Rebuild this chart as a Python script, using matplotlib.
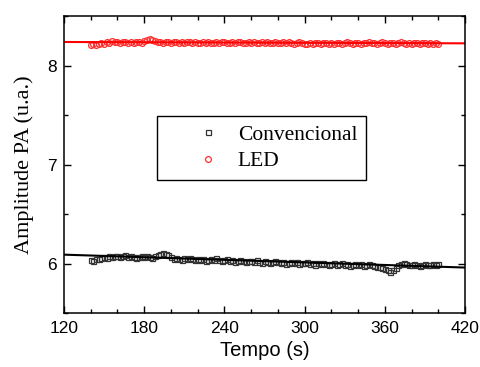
import numpy as np
import matplotlib
matplotlib.use("Agg")
import matplotlib.pyplot as plt
from matplotlib.ticker import MultipleLocator

# time axis (s), one sample every 2 s
tempo = np.arange(140, 401, 2)

convencional = [
    6.04, 6.03, 6.05, 6.05, 6.06, 6.07, 6.06, 6.08, 6.07, 6.08,
    6.08, 6.07, 6.08, 6.09, 6.07, 6.08, 6.07, 6.06, 6.07, 6.08,
    6.07, 6.08, 6.07, 6.06, 6.08, 6.09, 6.10, 6.11, 6.10, 6.09,
    6.07, 6.05, 6.06, 6.05, 6.04, 6.06, 6.05, 6.06, 6.05, 6.04,
    6.05, 6.04, 6.05, 6.03, 6.04, 6.05, 6.04, 6.06, 6.04, 6.03,
    6.04, 6.05, 6.03, 6.04, 6.02, 6.03, 6.04, 6.03, 6.02, 6.03,
    6.03, 6.02, 6.04, 6.02, 6.01, 6.03, 6.02, 6.01, 6.02, 6.03,
    6.02, 6.01, 6.02, 6.00, 6.01, 6.02, 6.01, 6.02, 6.00, 6.01,
    6.01, 6.02, 6.00, 6.01, 5.99, 6.01, 6.00, 6.01, 6.00, 5.99,
    6.00, 6.01, 5.99, 6.00, 6.01, 5.99, 6.00, 5.98, 5.99, 6.00,
    5.99, 6.00, 5.98, 5.99, 6.00, 5.99, 5.98, 5.97, 5.97, 5.96,
    5.95, 5.93, 5.91, 5.93, 5.96, 5.99, 6.00, 6.01, 6.00, 5.99,
    5.99, 6.00, 5.99, 5.98, 5.99, 6.00, 5.99, 5.99, 6.00, 5.99,
    6.00,
]

led = [
    8.21, 8.22, 8.21, 8.22, 8.23, 8.22, 8.24, 8.23, 8.25, 8.24,
    8.24, 8.23, 8.24, 8.24, 8.23, 8.24, 8.23, 8.24, 8.24, 8.23,
    8.25, 8.26, 8.27, 8.26, 8.25, 8.24, 8.24, 8.23, 8.24, 8.24,
    8.23, 8.24, 8.24, 8.23, 8.24, 8.23, 8.24, 8.24, 8.23, 8.24,
    8.23, 8.23, 8.24, 8.23, 8.24, 8.23, 8.23, 8.24, 8.23, 8.24,
    8.24, 8.23, 8.23, 8.24, 8.23, 8.24, 8.24, 8.23, 8.23, 8.24,
    8.23, 8.24, 8.23, 8.23, 8.24, 8.23, 8.24, 8.23, 8.23, 8.24,
    8.23, 8.23, 8.24, 8.23, 8.24, 8.23, 8.22, 8.23, 8.24, 8.23,
    8.22, 8.22, 8.23, 8.22, 8.23, 8.23, 8.22, 8.23, 8.23, 8.22,
    8.23, 8.22, 8.23, 8.23, 8.22, 8.23, 8.24, 8.23, 8.22, 8.23,
    8.23, 8.22, 8.23, 8.23, 8.24, 8.23, 8.23, 8.22, 8.23, 8.24,
    8.23, 8.22, 8.23, 8.23, 8.22, 8.23, 8.24, 8.23, 8.22, 8.23,
    8.22, 8.23, 8.23, 8.22, 8.23, 8.23, 8.22, 8.23, 8.22, 8.23,
    8.22,
]

serif = "Liberation Serif"
sans = "Liberation Sans"

fig = plt.figure(figsize=(4.81, 3.67), dpi=100)
ax = fig.add_axes([0.133, 0.147, 0.834, 0.809])

ax.plot(tempo, convencional, linestyle="none", marker="s", markersize=3.6,
        markerfacecolor="none", markeredgecolor="#333333", markeredgewidth=0.9,
        label="Convencional")
ax.plot(tempo, led, linestyle="none", marker="o", markersize=4.2,
        markerfacecolor="none", markeredgecolor="#ff3030", markeredgewidth=0.9,
        label="LED")

# linear fits over the full axis range
t_fit = np.array([120, 420])
for y, c in [(convencional, "black"), (led, "red")]:
    a, b = np.polyfit(tempo, y, 1)
    ax.plot(t_fit, a * t_fit + b, color=c, linewidth=1.5)

ax.set_xlim(120, 420)
ax.set_ylim(5.5, 8.5)
ax.xaxis.set_major_locator(MultipleLocator(60))
ax.xaxis.set_minor_locator(MultipleLocator(20))
ax.yaxis.set_major_locator(MultipleLocator(1))
ax.yaxis.set_minor_locator(MultipleLocator(0.5))
ax.tick_params(which="both", direction="in", top=True, right=True, width=1.0)
ax.tick_params(which="major", length=5, labelsize=12.5)
ax.tick_params(axis="x", which="major", pad=6)
ax.tick_params(axis="y", which="major", pad=5)
ax.tick_params(which="minor", length=3)
for lab in ax.get_xticklabels() + ax.get_yticklabels():
    lab.set_fontfamily(sans)
for s in ax.spines.values():
    s.set_linewidth(1.1)

ax.set_xlabel("Tempo (s)", fontsize=14.5, fontfamily=sans, labelpad=3)
ax.set_ylabel("Amplitude PA (u.a.)", fontsize=16, fontfamily=serif, labelpad=10)

leg = ax.legend(loc="upper left", bbox_to_anchor=(0.232, 0.664), borderaxespad=0,
                fancybox=False, edgecolor="black", framealpha=1,
                prop={"family": serif, "size": 15.5},
                handletextpad=-0.55, borderpad=0.4, labelspacing=0.3,
                handlelength=3.9)
leg.get_frame().set_linewidth(1.0)

fig.savefig("out.png", dpi=100)
